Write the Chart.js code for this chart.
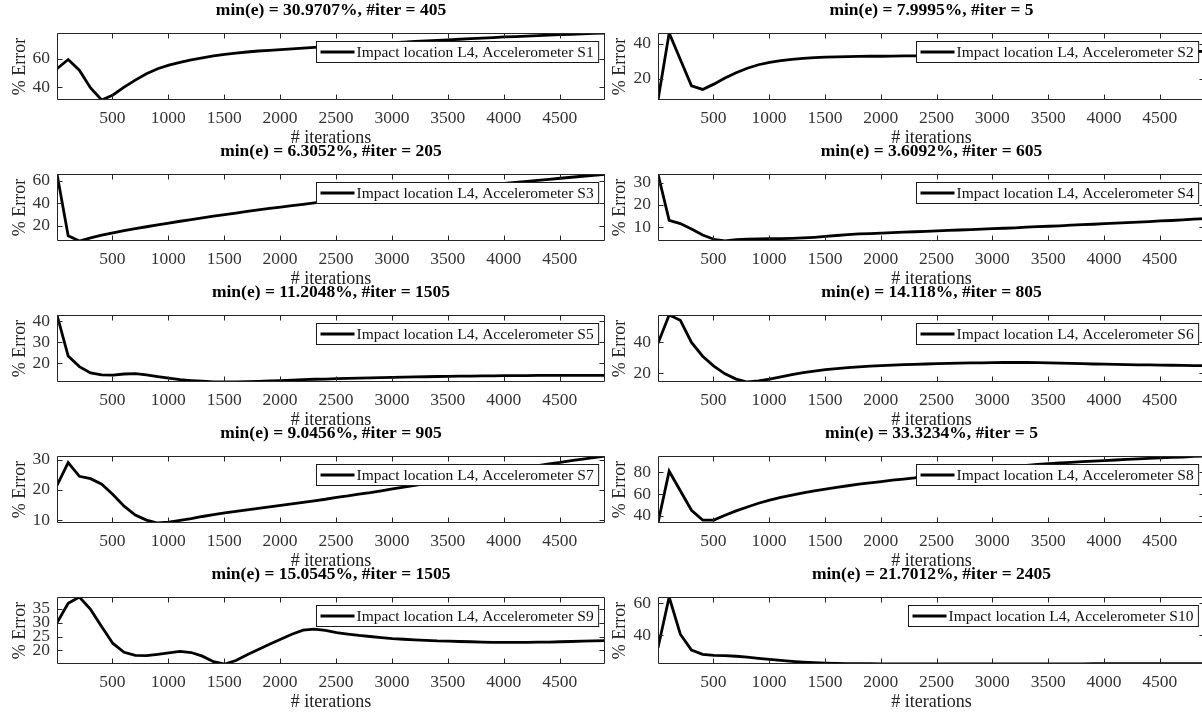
<!DOCTYPE html>
<html><head><meta charset="utf-8">
<script src="https://cdn.jsdelivr.net/npm/chart.js@4.4.1/dist/chart.umd.min.js"></script>
<style>
html,body{margin:0;padding:0;background:#fff;width:1202px;height:715px;overflow:hidden;position:relative}
canvas{position:absolute}
</style></head><body>
<script>
const iterations = [5,105,205,305,405,505,605,705,805,905,1005,1105,1205,1305,1405,1505,1605,1705,1805,1905,2005,2105,2205,2305,2405,2505,2605,2705,2805,2905,3005,3105,3205,3305,3405,3505,3605,3705,3805,3905,4005,4105,4205,4305,4405,4505,4605,4705,4805,4905];

const errS1 = [53,59.5,52,39.5,30.97,34.5,40,45,49.5,53,55.5,57.5,59.3,60.7,62,63.2,64,64.8,65.5,66,66.5,67,67.5,68,68.5,69,69.5,70,70.5,71,71.4,71.8,72.2,72.6,73,73.4,73.8,74.2,74.6,75,75.4,75.7,76,76.4,76.7,77,77.3,77.6,77.9,78.2];
const errS2 = [8.0,46,31,16,14,17,20.5,23.5,26,28,29.3,30.3,31,31.6,32,32.3,32.5,32.6,32.7,32.8,32.8,32.9,33,33,33.1,33.2,33.3,33.4,33.5,33.6,33.7,33.8,33.9,34,34.1,34.2,34.3,34.4,34.5,34.6,34.7,34.8,34.9,35,35.1,35.2,35.3,35.4,35.5,35.6];
const errS3 = [66,11,6.3,9,11.5,13.5,15.5,17.3,19,20.7,22.3,23.9,25.4,26.9,28.4,29.8,31.2,32.6,34,35.3,36.5,37.8,39,40.2,41.4,42.6,43.7,44.8,45.9,47,48,49,50,51,52,53,54,55,55.9,56.8,57.7,58.6,59.5,60.4,61.3,62.2,63.1,64,64.9,65.8];
const errS4 = [34,13,11.5,9,6.3,4.4,3.61,4.2,4.5,4.6,4.7,4.7,4.8,5,5.3,5.7,6.1,6.5,6.8,7,7.2,7.4,7.6,7.8,8,8.2,8.4,8.6,8.8,9,9.2,9.4,9.6,9.9,10.1,10.3,10.5,10.8,11,11.2,11.5,11.7,11.9,12.2,12.4,12.7,12.9,13.2,13.5,13.8];
const errS5 = [43,23.5,18.5,15.5,14.6,14.5,15,15.2,14.6,13.8,13,12.3,11.9,11.6,11.3,11.2,11.25,11.35,11.5,11.7,11.9,12.1,12.3,12.5,12.6,12.8,12.9,13,13.2,13.3,13.4,13.5,13.6,13.7,13.8,13.9,14,14,14.1,14.1,14.2,14.2,14.2,14.3,14.3,14.3,14.3,14.3,14.3,14.3];
const errS6 = [39.5,58,54.5,40,31,24.5,19.5,16,14.12,14.8,16,17.5,19,20.2,21.3,22.2,22.9,23.5,24,24.5,24.9,25.2,25.5,25.7,25.9,26.1,26.3,26.5,26.6,26.7,26.8,26.9,26.9,26.9,26.8,26.7,26.5,26.3,26.1,25.9,25.8,25.6,25.5,25.4,25.3,25.2,25.1,25,24.9,24.8];
const errS7 = [21.5,29,24.5,23.7,21.9,18.5,14.6,11.7,10,9.05,9.3,9.9,10.5,11.2,11.8,12.4,12.9,13.4,13.9,14.4,14.9,15.4,15.9,16.4,16.9,17.5,18,18.6,19.1,19.7,20.3,20.9,21.5,22.1,22.7,23.3,23.9,24.5,25.1,25.7,26.3,26.9,27.5,28,28.6,29.1,29.7,30.2,30.7,31.2];
const errS8 = [33.3,81,63,45,36,36,40.5,44.5,48,51.5,54.3,56.8,59,61,62.8,64.5,66.1,67.6,69,70.3,71.5,72.7,73.8,74.9,77,78.2,79.4,80.5,81.6,82.6,83.6,84.6,85.5,86.4,87.2,88,88.6,89.2,89.8,90.3,90.8,91.3,91.8,92.3,92.8,93.2,93.7,94.1,94.6,95];
const errS9 = [30,37,39.3,34.8,28.5,22.5,19.3,18.2,18.1,18.5,19.1,19.6,19.2,17.9,15.9,15.05,16.3,18.4,20.3,22.2,24,25.8,27.3,27.7,27.2,26.4,25.9,25.4,25,24.6,24.2,24,23.8,23.6,23.4,23.3,23.2,23.1,23,22.9,22.9,22.9,22.9,23,23,23.1,23.2,23.3,23.4,23.5];
const errS10 = [32,64,40.5,30.5,27.8,27.2,27,26.6,26,25.3,24.6,24,23.4,22.9,22.5,22.2,22.05,21.95,21.9,21.85,21.8,21.78,21.75,21.72,21.70,21.71,21.72,21.73,21.74,21.75,21.76,21.77,21.78,21.79,21.8,21.81,21.82,21.83,21.84,21.85,21.86,21.87,21.88,21.89,21.9,21.91,21.92,21.93,21.94,21.95];

const titles = [
  "min(e) = 30.9707%, #iter = 405",
  "min(e) = 7.9995%, #iter = 5",
  "min(e) = 6.3052%, #iter = 205",
  "min(e) = 3.6092%, #iter = 605",
  "min(e) = 11.2048%, #iter = 1505",
  "min(e) = 14.118%, #iter = 805",
  "min(e) = 9.0456%, #iter = 905",
  "min(e) = 33.3234%, #iter = 5",
  "min(e) = 15.0545%, #iter = 1505",
  "min(e) = 21.7012%, #iter = 2405"
];
const legendLabels = [
  "Impact location L4, Accelerometer S1","Impact location L4, Accelerometer S2",
  "Impact location L4, Accelerometer S3","Impact location L4, Accelerometer S4",
  "Impact location L4, Accelerometer S5","Impact location L4, Accelerometer S6",
  "Impact location L4, Accelerometer S7","Impact location L4, Accelerometer S8",
  "Impact location L4, Accelerometer S9","Impact location L4, Accelerometer S10"
];
const xTicks = [500,1000,1500,2000,2500,3000,3500,4000,4500];
const yTicksS1 = [40,60];
const yTicksS2 = [20,40];
const yTicksS3 = [20,40,60];
const yTicksS4 = [10,20,30];
const yTicksS5 = [20,30,40];
const yTicksS6 = [20,40];
const yTicksS7 = [10,20,30];
const yTicksS8 = [40,60,80];
const yTicksS9 = [20,25,30,35];
const yTicksS10 = [40,60];
const xLabel = "# iterations";
const yLabel = "% Error";

const series = [errS1,errS2,errS3,errS4,errS5,errS6,errS7,errS8,errS9,errS10];
const yTickSets = [yTicksS1,yTicksS2,yTicksS3,yTicksS4,yTicksS5,yTicksS6,yTicksS7,yTicksS8,yTicksS9,yTicksS10];

const FONT = "'Liberation Serif','Times New Roman',serif";

const framePlugin = {
  id: 'matlabFrame',
  afterDatasetsDraw(chart) {
    const {ctx, chartArea: a} = chart;
    const xs = chart.scales.x, ys = chart.scales.y;
    const L = Math.round(a.left) + 0.5, R = Math.round(a.right) - 0.5;
    const T = Math.round(a.top) + 0.5, B = Math.round(a.bottom) - 0.5;
    ctx.save();
    ctx.strokeStyle = '#262626';
    ctx.lineWidth = 1;
    ctx.beginPath();
    ctx.rect(L, T, R - L, B - T);
    const tl = 5;
    xs.ticks.forEach(t => {
      const px = Math.round(xs.getPixelForValue(t.value)) + 0.5;
      ctx.moveTo(px, B); ctx.lineTo(px, B - tl);
      ctx.moveTo(px, T); ctx.lineTo(px, T + tl);
    });
    ys.ticks.forEach(t => {
      const py = Math.round(ys.getPixelForValue(t.value)) + 0.5;
      ctx.moveTo(L, py); ctx.lineTo(L + tl, py);
      ctx.moveTo(R, py); ctx.lineTo(R - tl, py);
    });
    ctx.stroke();

    // legend box
    const ds = chart.data.datasets[0];
    ctx.font = "15.5px " + FONT;
    const tw = ctx.measureText(ds.label).width;
    const bh = 21;
    const bw = tw + 45;
    const bx = Math.round(a.right - 7 - bw) + 0.5;
    const by = Math.round(a.top + 8) + 0.5;
    ctx.fillStyle = '#fff';
    ctx.fillRect(bx, by, bw, bh);
    ctx.strokeStyle = '#1a1a1a';
    ctx.strokeRect(bx, by, bw, bh);
    ctx.beginPath();
    ctx.strokeStyle = ds.borderColor;
    ctx.lineWidth = ds.borderWidth;
    ctx.moveTo(bx + 4, by + bh / 2);
    ctx.lineTo(bx + 38, by + bh / 2);
    ctx.stroke();
    ctx.fillStyle = '#111';
    ctx.textBaseline = 'middle';
    ctx.textAlign = 'left';
    ctx.fillText(ds.label, bx + 40, by + bh / 2 + 1);
    ctx.restore();
  }
};

series.forEach((vals, i) => {
  const col = i % 2, row = Math.floor(i / 2);
  const cv = document.createElement('canvas');
  cv.width = 612; cv.height = 150;
  cv.style.left = (col ? 600 : 0) + 'px';
  cv.style.top = (row * 141) + 'px';
  document.body.appendChild(cv);
  const yt = yTickSets[i];
  new Chart(cv, {
    type: 'line',
    data: {
      datasets: [{
        label: legendLabels[i],
        data: iterations.map((x, k) => ({x: x, y: vals[k]})),
        borderColor: '#000', borderWidth: 2.8,
        pointRadius: 0, tension: 0, fill: false
      }]
    },
    options: {
      responsive: false, animation: false, devicePixelRatio: 1,
      layout: {padding: {left: 0, right: 7, top: 0, bottom: 0}},
      plugins: {
        legend: {display: false},
        tooltip: {enabled: false},
        title: {
          display: true, text: titles[i], fullSize: false, color: '#000',
          font: {family: FONT, size: 17.5, weight: 'bold'},
          padding: {top: 0, bottom: 12}
        }
      },
      scales: {
        x: {
          type: 'linear', min: iterations[0], max: iterations[iterations.length - 1],
          grid: {display: false, drawTicks: false}, border: {display: false},
          afterBuildTicks: s => { s.ticks = xTicks.map(v => ({value: v})); },
          afterFit: s => { s.height = 50; },
          ticks: {
            color: '#333', padding: 8, maxRotation: 0, autoSkip: false,
            font: {family: FONT, size: 17.5},
            callback: v => String(v)
          },
          title: {display: true, text: xLabel, color: '#222',
                  font: {family: FONT, size: 18}, padding: {top: 0, bottom: 1}}
        },
        y: {
          type: 'linear', min: Math.min(...vals), max: Math.max(...vals),
          grid: {display: false, drawTicks: false}, border: {display: false},
          afterBuildTicks: s => { s.ticks = yt.map(v => ({value: v})); },
          afterFit: s => { s.width = col ? 58 : 57; },
          ticks: {
            color: '#333', padding: 7, autoSkip: false,
            font: {family: FONT, size: 17.5},
            callback: v => String(v)
          },
          title: {display: true, text: yLabel, color: '#222',
                  font: {family: FONT, size: 18}, padding: {top: 9, bottom: 0}}
        }
      }
    },
    plugins: [framePlugin]
  });
});
</script>
</body></html>
